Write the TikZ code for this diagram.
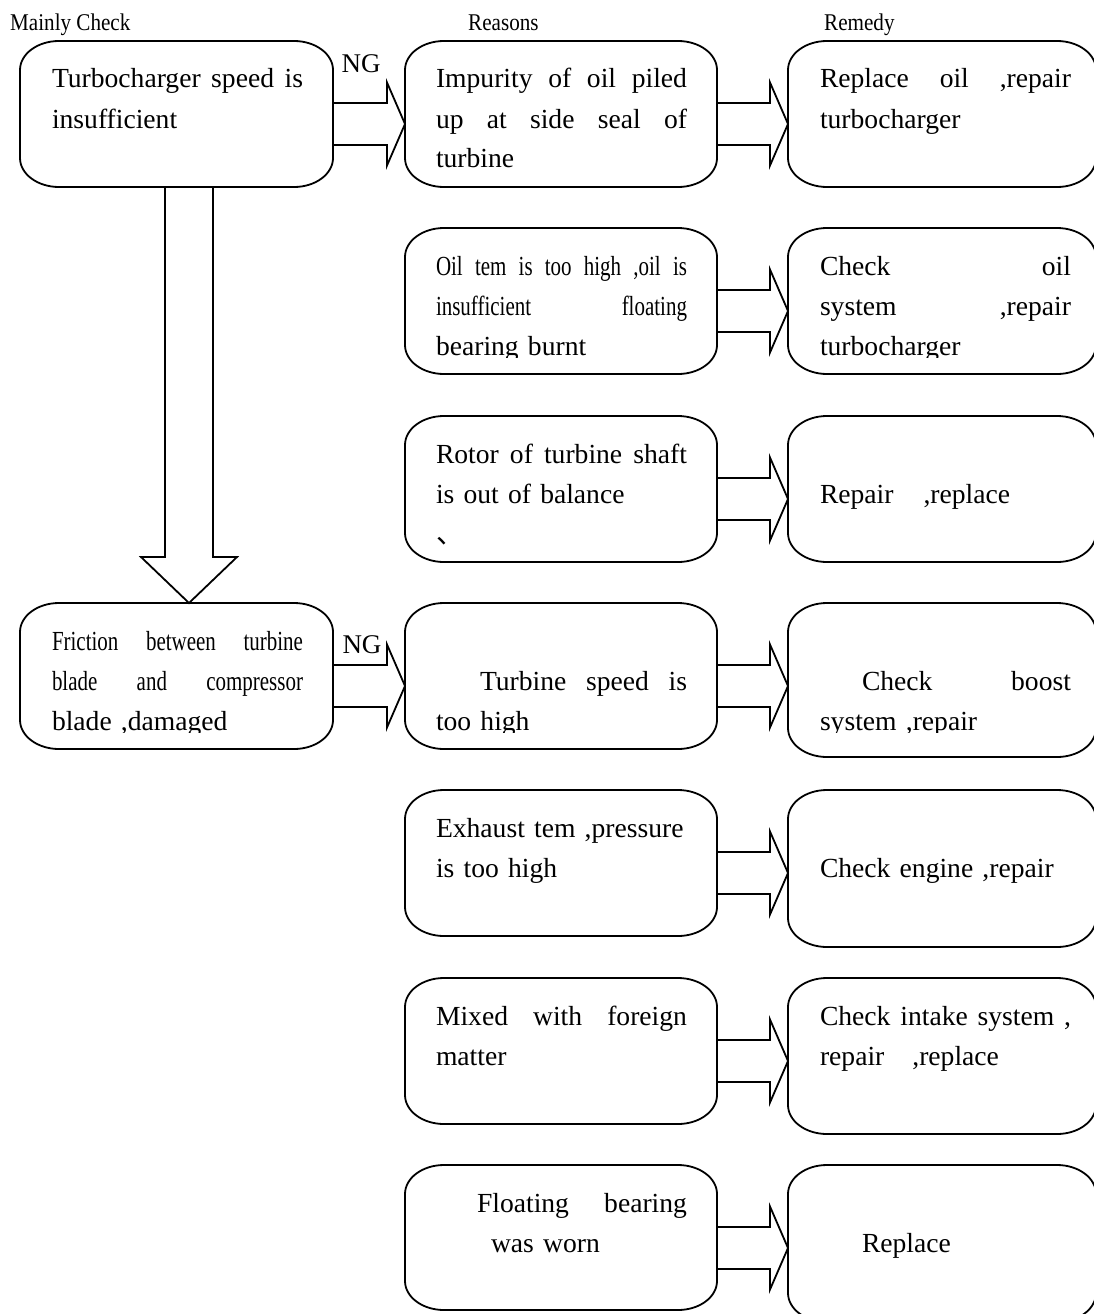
\documentclass[tikz,border=0pt]{standalone}
\usepackage{fontspec}
\setmainfont{Liberation Serif}
\newfontfamily\condf[FakeStretch=0.76]{Liberation Serif}
\newfontfamily\hdrf[FakeStretch=0.88]{Liberation Serif}
\newfontfamily\cjkf{Noto Sans CJK SC}
\usetikzlibrary{calc}

\tikzset{
  boxline/.style={draw=black, line width=1.8pt, line join=round},
  arrline/.style={draw=black, line width=1.8pt, line join=miter},
  txt/.style={inner sep=0pt, outer sep=0pt, text width=251pt, align=left, anchor=base west,
    font=\fontsize{27.6}{40}\selectfont},
  hdr/.style={inner sep=0pt, anchor=base west, font=\hdrf\fontsize{24}{28}\selectfont},
  nglabel/.style={inner sep=0pt, font=\fontsize{27}{30}\selectfont},
}

% a justified line of full width
\newcommand\jline[1]{\leavevmode\hbox to 251pt{#1}}

\newcommand\bxrx{39}
\newcommand\bxry{29}
% name, x1, top, x2, bottom (pixel values, y downwards)
\newcommand\rbox[5]{%
  \draw[boxline] ({#2+\bxrx},-#3) -- ({#4-\bxrx},-#3)
    arc[start angle=90,end angle=0,x radius=\bxrx,y radius=\bxry]
    -- (#4,{-#5+\bxry})
    arc[start angle=0,end angle=-90,x radius=\bxrx,y radius=\bxry]
    -- ({#2+\bxrx},-#5)
    arc[start angle=-90,end angle=-180,x radius=\bxrx,y radius=\bxry]
    -- (#2,{-#3-\bxry})
    arc[start angle=180,end angle=90,x radius=\bxrx,y radius=\bxry]
    -- cycle;
  \node[inner sep=0pt, outer sep=0pt, minimum width={#4-#2}, minimum height={#5-#3}] (#1) at ({(#2+#4)/2},{-(#3+#5)/2}) {};
}
% name, x1, top, x2, text x, baseline offset, content
\newcommand\btext[7]{%
  \begin{scope}
    \clip (#2,-#3) rectangle (#4,{-#3-129});
    \node[txt] (#1) at (#5,{-#3-#6}) {#7};
  \end{scope}
}
% block arrow from right side of box #1 to left side of box #2
\newcommand\harr[2]{%
  \draw[arrline] let \p1=(#1.east), \p2=(#2.west), \p3=(#1.north) in
    (\x1,\y3-62pt) -- (\x2-18pt,\y3-62pt) -- (\x2-18pt,\y3-41.5pt)
    -- (\x2,\y3-83pt) -- (\x2-18pt,\y3-124.5pt) -- (\x2-18pt,\y3-104pt)
    -- (\x1,\y3-104pt);
}

\begin{document}
\hyphenpenalty=10000
\exhyphenpenalty=10000
\begin{tikzpicture}[x=1pt,y=1pt]
\fill[white] (0,0) rectangle (1093,-1314);
\useasboundingbox (0,0) rectangle (1093,-1314);

% headers
\node[hdr] (h1) at (10,-31) {Mainly Check};
\node[hdr] (h2) at (468,-31) {Reasons};
\node[hdr] (h3) at (824,-31) {Remedy};

% boxes
\rbox{A}{20}{41}{333}{187}
\rbox{B}{20}{603}{333}{749}
\rbox{R1}{405}{41}{717}{187}
\rbox{R2}{405}{228}{717}{374}
\rbox{R3}{405}{416}{717}{562}
\rbox{R4}{405}{603}{717}{749}
\rbox{R5}{405}{790}{717}{936}
\rbox{R6}{405}{978}{717}{1124}
\rbox{R7}{405}{1165}{717}{1310}
\rbox{M1}{788}{41}{1096}{187}
\rbox{M2}{788}{228}{1096}{374}
\rbox{M3}{788}{416}{1096}{562}
\rbox{M4}{788}{603}{1096}{757}
\rbox{M5}{788}{790}{1096}{947}
\rbox{M6}{788}{978}{1096}{1134}
\rbox{M7}{788}{1165}{1096}{1322}

% texts
\btext{At}{20}{41}{333}{52}{47}{\jline{Turbocharger \hfill speed \hfill is}\\ insufficient}
\btext{Bt}{20}{603}{333}{52}{47}{{\condf \jline{Friction \hfill between \hfill turbine}\\ \jline{blade \hfill and \hfill compressor}}\\ blade ,damaged}
\btext{R1t}{405}{41}{717}{436}{47}{\jline{Impurity \hfill of \hfill oil \hfill piled}\\ \jline{up \hfill at \hfill side \hfill seal \hfill of}\\ turbine}
\btext{R2t}{405}{228}{717}{436}{47}{{\condf \jline{Oil \hfill tem \hfill is \hfill too \hfill high \hfill ,oil \hfill is}\\ \jline{insufficient \hfill floating}}\\ bearing burnt}
\btext{R3t}{405}{416}{717}{436}{47}{\jline{Rotor \hfill of \hfill turbine \hfill shaft}\\ is out of balance\\ {\cjkf 、}}
\btext{R4t}{405}{603}{717}{436}{87}{\jline{\hspace*{44pt}Turbine \hfill speed \hfill is}\\ too high}
\btext{R5t}{405}{790}{717}{436}{47}{\mbox{Exhaust tem ,pressure}\\ is too high}
\btext{R6t}{405}{978}{717}{436}{47}{\jline{Mixed \hfill with \hfill foreign}\\ matter}
\btext{R7t}{405}{1165}{717}{436}{47}{\jline{\hspace*{41pt}Floating \hfill bearing}\\ \hspace*{55pt}was worn}
\btext{M1t}{788}{41}{1096}{820}{47}{\jline{Replace \hfill oil \hfill ,repair}\\ turbocharger}
\btext{M2t}{788}{228}{1096}{820}{47}{\jline{Check \hfill oil}\\ \jline{system \hfill ,repair}\\ turbocharger}
\btext{M3t}{788}{416}{1096}{820}{87}{Repair\hspace{30pt},replace}
\btext{M4t}{788}{603}{1096}{820}{87}{\jline{\hspace*{42pt}Check \hfill boost}\\ system ,repair}
\btext{M5t}{788}{790}{1096}{820}{87}{\mbox{Check engine ,repair}}
\btext{M6t}{788}{978}{1096}{820}{47}{\jline{Check \hfill intake \hfill system \hfill ,}\\ repair\hspace{28pt},replace}
\btext{M7t}{788}{1165}{1096}{820}{87}{\hspace*{42pt}Replace}

% NG labels
\node[nglabel] (ng1) at (361,-64) {NG};
\node[nglabel] (ng2) at (362,-645) {NG};

% horizontal block arrows
\harr{A}{R1}
\harr{R1}{M1}
\harr{R2}{M2}
\harr{R3}{M3}
\harr{B}{R4}
\harr{R4}{M4}
\harr{R5}{M5}
\harr{R6}{M6}
\harr{R7}{M7}

% vertical block arrow
\draw[arrline] let \p1=(A.south), \p2=(B.north) in
  (\x1-11.5pt,\y1) -- (\x1-11.5pt,\y2+46pt) -- (\x1-35.5pt,\y2+46pt)
  -- (\x1+12.5pt,\y2) -- (\x1+60.5pt,\y2+46pt) -- (\x1+36.5pt,\y2+46pt)
  -- (\x1+36.5pt,\y1);
\end{tikzpicture}
\end{document}
